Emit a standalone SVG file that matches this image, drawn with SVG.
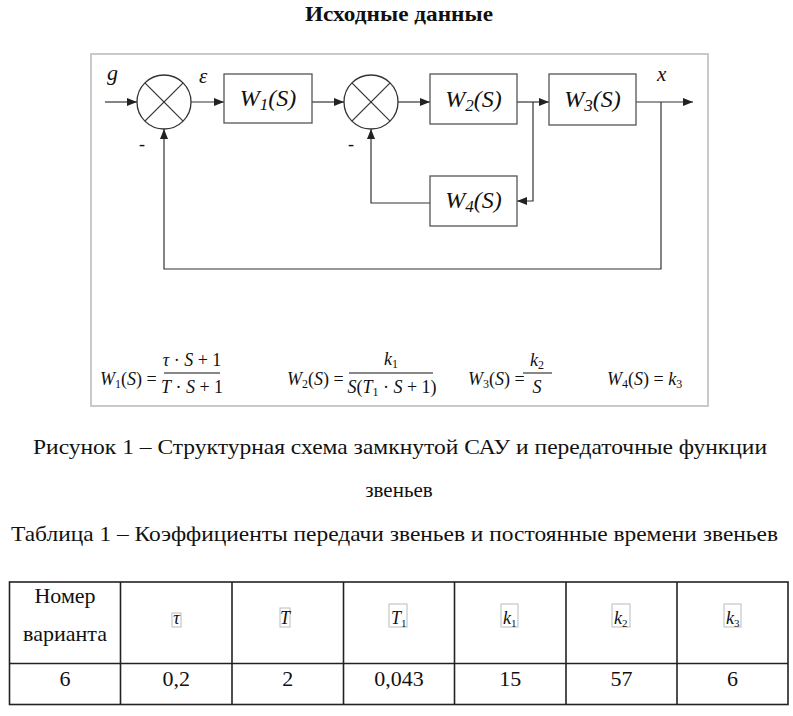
<svg xmlns="http://www.w3.org/2000/svg" width="793" height="716" viewBox="0 0 793 716">
<defs>
<marker id="arr" viewBox="0 0 10 8" refX="10" refY="4" markerWidth="10" markerHeight="8" markerUnits="userSpaceOnUse" orient="auto">
<path d="M0,0 L10,4 L0,8 Z" fill="#222"/>
</marker>
</defs>
<style>
text, tspan{font-family:"Liberation Serif", Tinos, "Times New Roman", Times, "Noto Serif", "DejaVu Serif", serif}
text{fill:#111}
.it{font-style:italic}
.blk{fill:#fff;stroke:#555;stroke-width:1.3}
.sum{fill:#fff;stroke:#333;stroke-width:1.3}
.x{stroke:#333;stroke-width:1.2}
.ln{fill:none;stroke:#333;stroke-width:1.2}
.bt{font-size:24px;font-style:italic;text-anchor:middle}
.f{font-size:18px}
.body{font-size:21px}
.cell{font-size:22px;text-anchor:middle}
.grid{stroke:#222;stroke-width:1.6;fill:none}
.fb{fill:none;stroke:#bbb;stroke-width:1}
</style>
<rect width="793" height="716" fill="#fff"/>
<text x="305" y="21" style="font-size:20px;font-weight:bold" textLength="188" lengthAdjust="spacingAndGlyphs">Исходные данные</text>
<rect x="91" y="54" width="617" height="352" fill="none" stroke="#c4c4c4" stroke-width="1.8"/>
<g id="connectors">
<path class="ln" d="M105,102 H137" marker-end="url(#arr)"/>
<path class="ln" d="M191,102 H224" marker-end="url(#arr)"/>
<path class="ln" d="M312,102 H344" marker-end="url(#arr)"/>
<path class="ln" d="M398,102 H430" marker-end="url(#arr)"/>
<path class="ln" d="M517,102 H549" marker-end="url(#arr)"/>
<path class="ln" d="M533,102 V201 H517" marker-end="url(#arr)"/>
<path class="ln" d="M430,203 H371 V129" marker-end="url(#arr)"/>
<path class="ln" d="M636,102 H693" marker-end="url(#arr)"/>
<path class="ln" d="M661,102 V269 H164 V129" marker-end="url(#arr)"/>
</g>
<g id="labels">
<text x="107" y="80" class="it" style="font-size:22px">g</text>
<text x="199" y="83" class="it" style="font-size:21px">ε</text>
<text x="657" y="81" class="it" style="font-size:21px">x</text>
<text x="139" y="150" style="font-size:18px">-</text>
<text x="348" y="150" style="font-size:18px">-</text>
</g>
<g id="sum1">
<circle class="sum" cx="164" cy="102" r="27"/>
<line class="x" x1="144.9" y1="82.9" x2="183.1" y2="121.1"/>
<line class="x" x1="183.1" y1="82.9" x2="144.9" y2="121.1"/>
</g>
<g id="sum2">
<circle class="sum" cx="371" cy="102" r="27"/>
<line class="x" x1="351.9" y1="82.9" x2="390.1" y2="121.1"/>
<line class="x" x1="390.1" y1="82.9" x2="351.9" y2="121.1"/>
</g>
<g id="W1">
<rect class="blk" x="224" y="74" width="88" height="49"/>
<text x="268" y="106" class="bt">W<tspan style="font-size:17px" dy="4">1</tspan><tspan dy="-4">(S)</tspan></text>
</g>
<g id="W2">
<rect class="blk" x="430" y="74" width="87" height="50"/>
<text x="473.5" y="107" class="bt">W<tspan style="font-size:17px" dy="4">2</tspan><tspan dy="-4">(S)</tspan></text>
</g>
<g id="W3">
<rect class="blk" x="549" y="74" width="87" height="51"/>
<text x="592.5" y="107" class="bt">W<tspan style="font-size:17px" dy="4">3</tspan><tspan dy="-4">(S)</tspan></text>
</g>
<g id="W4">
<rect class="blk" x="430" y="176" width="87" height="50"/>
<text x="473.5" y="208" class="bt">W<tspan style="font-size:17px" dy="4">4</tspan><tspan dy="-4">(S)</tspan></text>
</g>
<g id="formulas">
<text x="100" y="385" class="f"><tspan class="it">W</tspan><tspan style="font-size:12px" dy="3">1</tspan><tspan dy="-3">(</tspan><tspan class="it">S</tspan>) =</text>
<line x1="164" y1="373" x2="220" y2="373" stroke="#111" stroke-width="1"/>
<text x="192" y="366" class="f" text-anchor="middle"><tspan class="it">τ</tspan> · <tspan class="it">S</tspan> + 1</text>
<text x="192" y="393" class="f" text-anchor="middle"><tspan class="it">T</tspan> · <tspan class="it">S</tspan> + 1</text>
<text x="287" y="385" class="f"><tspan class="it">W</tspan><tspan style="font-size:12px" dy="3">2</tspan><tspan dy="-3">(</tspan><tspan class="it">S</tspan>) =</text>
<line x1="349" y1="373" x2="433" y2="373" stroke="#111" stroke-width="1"/>
<text x="391" y="365" class="f" text-anchor="middle"><tspan class="it">k</tspan><tspan style="font-size:12px" dy="3">1</tspan></text>
<text x="392" y="393" class="f" text-anchor="middle"><tspan class="it">S</tspan>(<tspan class="it">T</tspan><tspan style="font-size:12px" dy="3">1</tspan><tspan dy="-3"> · </tspan><tspan class="it">S</tspan> + 1)</text>
<text x="468" y="385" class="f"><tspan class="it">W</tspan><tspan style="font-size:12px" dy="3">3</tspan><tspan dy="-3">(</tspan><tspan class="it">S</tspan>) =</text>
<line x1="523" y1="373" x2="552" y2="373" stroke="#111" stroke-width="1"/>
<text x="537" y="366" class="f" text-anchor="middle"><tspan class="it">k</tspan><tspan style="font-size:12px" dy="3">2</tspan></text>
<text x="537" y="393" class="f it" text-anchor="middle">S</text>
<text x="607" y="385" class="f"><tspan class="it">W</tspan><tspan style="font-size:12px" dy="3">4</tspan><tspan dy="-3">(</tspan><tspan class="it">S</tspan>) = <tspan class="it">k</tspan><tspan style="font-size:12px" dy="3">3</tspan></text>
</g>
<text x="33" y="454" class="body" textLength="734" lengthAdjust="spacingAndGlyphs">Рисунок 1 – Структурная схема замкнутой САУ и передаточные функции</text>
<text x="399" y="497" class="body" text-anchor="middle">звеньев</text>
<text x="11" y="541" class="body" textLength="767" lengthAdjust="spacingAndGlyphs">Таблица 1 – Коэффициенты передачи звеньев и постоянные времени звеньев</text>
<g id="table">
<rect class="grid" x="9.5" y="582" width="778.5" height="122.5"/>
<line class="grid" x1="9.5" y1="663.5" x2="788" y2="663.5"/>
<line class="grid" x1="120.5" y1="582" x2="120.5" y2="704.5"/>
<line class="grid" x1="232" y1="582" x2="232" y2="704.5"/>
<line class="grid" x1="343.5" y1="582" x2="343.5" y2="704.5"/>
<line class="grid" x1="454.5" y1="582" x2="454.5" y2="704.5"/>
<line class="grid" x1="566" y1="582" x2="566" y2="704.5"/>
<line class="grid" x1="677" y1="582" x2="677" y2="704.5"/>
<text x="65" y="603" class="cell">Номер</text>
<text x="65" y="641" class="cell">варианта</text>
<rect class="fb" x="172" y="613" width="9" height="14"/>
<text x="176.5" y="624" class="cell it" style="font-size:18px">τ</text>
<rect class="fb" x="280" y="608" width="10" height="19"/>
<text x="285" y="624" class="cell it" style="font-size:18px">T</text>
<rect class="fb" x="389" y="604" width="18" height="23"/>
<text x="391" y="624" class="it" style="font-size:18px">T<tspan style="font-size:11px;font-style:normal" dy="3">1</tspan></text>
<rect class="fb" x="501" y="604" width="17" height="23"/>
<text x="503" y="624" class="it" style="font-size:18px">k<tspan style="font-size:11px;font-style:normal" dy="3">1</tspan></text>
<rect class="fb" x="612" y="604" width="18" height="23"/>
<text x="614" y="624" class="it" style="font-size:18px">k<tspan style="font-size:11px;font-style:normal" dy="3">2</tspan></text>
<rect class="fb" x="724" y="604" width="17" height="23"/>
<text x="726" y="624" class="it" style="font-size:18px">k<tspan style="font-size:11px;font-style:normal" dy="3">3</tspan></text>
<text x="65" y="686" class="cell">6</text>
<text x="176.25" y="686" class="cell">0,2</text>
<text x="287.75" y="686" class="cell">2</text>
<text x="399" y="686" class="cell">0,043</text>
<text x="510.25" y="686" class="cell">15</text>
<text x="621.5" y="686" class="cell">57</text>
<text x="732.5" y="686" class="cell">6</text>
</g>
</svg>
